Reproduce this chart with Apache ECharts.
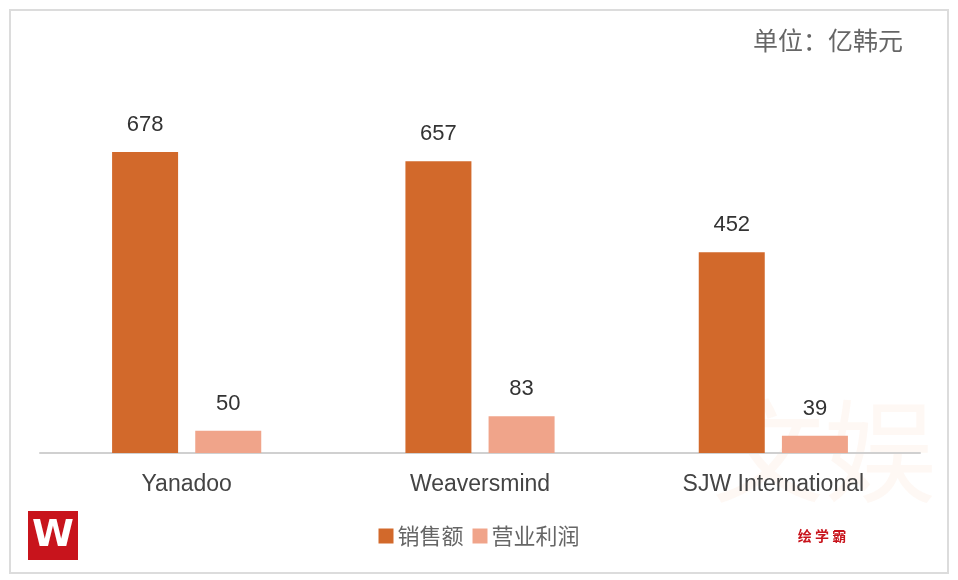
<!DOCTYPE html>
<html>
<head>
<meta charset="utf-8">
<script src="https://cdn.jsdelivr.net/npm/echarts@6/dist/echarts.min.js"></script>
<style>
html,body{margin:0;padding:0;background:#fff;}
#c{width:958px;height:580px;}
</style>
</head>
<body>
<div id="c"></div>
<script>
var categories = ['Yanadoo', 'Weaversmind', 'SJW International'];
var sales = [678, 657, 452];
var profit = [50, 83, 39];
var seriesNames = ['销售额', '营业利润'];
var unitText = '单位：亿韩元';

var chart = echarts.init(document.getElementById('c'));
var font = '"Helvetica Neue", Arial, "Liberation Sans", "Noto Sans CJK SC", sans-serif';
chart.setOption({
  backgroundColor: '#fff',
  animation: false,
  grid: {left: 40, right: 38, top: 97.8, bottom: 127, containLabel: false},
  graphic: [
    {type: 'rect', shape: {x: 10, y: 10, width: 938, height: 563}, style: {fill: 'none', stroke: '#dcdcdc', lineWidth: 2}, z: -10},
    {type: 'text', left: 712, top: 395, style: {text: '文娱', font: '112px "Noto Sans CJK SC"', fill: 'rgba(245,160,110,0.08)'}, z: -5},
    {type: 'rect', shape: {x: 28, y: 511, width: 50, height: 49}, style: {fill: '#c8141c'}},
    {type: 'text', x: 53, y: 536, style: {text: 'W', font: 'bold 38px "DejaVu Sans"', fill: '#fff', align: 'center', verticalAlign: 'middle'}},
    {type: 'text', x: 822, y: 536, style: {text: '绘 学 霸', font: 'bold 14px "Noto Sans CJK SC"', fill: '#c8141c', align: 'center', verticalAlign: 'middle'}},
    {type: 'text', right: 55, top: 28, style: {text: unitText, font: '25px "Noto Sans CJK SC"', fill: '#666'}}
  ],
  legend: {
    data: seriesNames,
    bottom: 28,
    left: 'center',
    itemWidth: 15,
    itemHeight: 15,
    itemGap: 9,
    icon: 'rect',
    textStyle: {fontSize: 22, color: '#666', fontFamily: '"Noto Sans CJK SC"', padding: [0, 0, 0, -1]}
  },
  xAxis: {
    type: 'category',
    data: categories,
    axisLine: {lineStyle: {color: '#d0d0d0', width: 2}},
    axisTick: {show: false},
    axisLabel: {fontSize: 23, color: '#444', margin: 20, fontFamily: font}
  },
  yAxis: {
    type: 'value',
    min: 0,
    max: 800,
    show: false,
    splitLine: {show: false}
  },
  series: [
    {
      name: seriesNames[0],
      type: 'bar',
      data: sales,
      barWidth: 66,
      barGap: '26%',
      itemStyle: {color: '#d2692b'},
      label: {show: true, position: 'top', distance: 16, fontSize: 22, color: '#333', fontFamily: font}
    },
    {
      name: seriesNames[1],
      type: 'bar',
      data: profit,
      barWidth: 66,
      itemStyle: {color: '#f0a48a'},
      label: {show: true, position: 'top', distance: 16, fontSize: 22, color: '#333', fontFamily: font}
    }
  ]
});
</script>
</body>
</html>
